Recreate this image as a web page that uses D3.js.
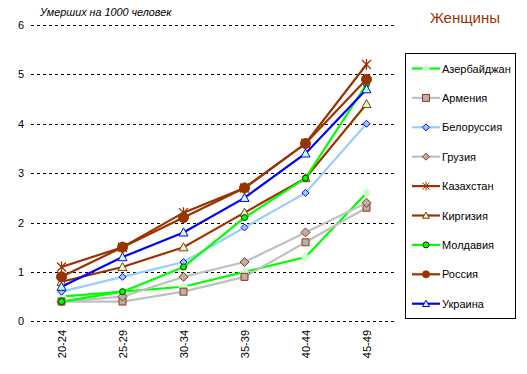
<!DOCTYPE html>
<html>
<head>
<meta charset="utf-8">
<style>
body { margin: 0; background: #fff; }
text { font-family: "Liberation Sans", Arial, sans-serif; }
</style>
</head>
<body>
<script src="https://d3js.org/d3.v7.min.js"></script>
<script>
// age groups along the x axis
var ageGroups = ["20-24", "25-29", "30-34", "35-39", "40-44", "45-49"];
var yTicks = [0, 1, 2, 3, 4, 5, 6];

// deaths per 1000 women, one array per republic
var azerbaijan = [0.5, 0.6, 0.7, 1.0, 1.3, 2.6];
var armenia    = [0.4, 0.4, 0.6, 0.9, 1.6, 2.3];
var belarus    = [0.6, 0.9, 1.2, 1.9, 2.6, 4.0];
var georgia    = [0.4, 0.5, 0.9, 1.2, 1.8, 2.4];
var kazakhstan = [1.1, 1.5, 2.2, 2.7, 3.6, 5.2];
var kirgizia   = [0.8, 1.1, 1.5, 2.2, 2.9, 4.4];
var moldova    = [0.4, 0.6, 1.1, 2.1, 2.9, 4.8];
var russia     = [0.9, 1.5, 2.1, 2.7, 3.6, 4.9];
var ukraine    = [0.7, 1.3, 1.8, 2.5, 3.4, 4.7];

var seriesNames = ["Азербайджан", "Армения", "Белоруссия", "Грузия", "Казахстан",
                   "Киргизия", "Молдавия", "Россия", "Украина"];

// how each series looks (line colour, marker shape/size, marker fill and stroke)
var styles = [
  { line: "#00ff00", shape: "diamond",  r: 4.5, fill: "#ccffcc", stroke: "#ccffcc" },
  { line: "#c0c0c0", shape: "square",   r: 3.5, fill: "#b2b2b2", stroke: "#993300" },
  { line: "#99ccff", shape: "diamond",  r: 3.5, fill: "#99ccff", stroke: "#0000ff" },
  { line: "#c0c0c0", shape: "diamond",  r: 4.5, fill: "#b2b2b2", stroke: "#993300" },
  { line: "#993300", shape: "star",     r: 4.5, fill: "none",    stroke: "#993300" },
  { line: "#993300", shape: "triangle", r: 4.5, fill: "#ccffcc", stroke: "#993300" },
  { line: "#00ff00", shape: "circle",   r: 3,   fill: "#00ff00", stroke: "#003300" },
  { line: "#993300", shape: "circle",   r: 5,   fill: "#993300", stroke: "#993300" },
  { line: "#0000ff", shape: "triangle", r: 4.5, fill: "#ccffcc", stroke: "#0000ff" }
];

var values = [azerbaijan, armenia, belarus, georgia, kazakhstan, kirgizia, moldova, russia, ukraine];

var series = seriesNames.map(function (name, i) {
  return { name: name, values: values[i], style: styles[i] };
});

function markerPath(shape, r) {
  if (shape == "diamond") return "M0," + (-r) + "L" + r + ",0L0," + r + "L" + (-r) + ",0Z";
  if (shape == "square") return "M" + (-r) + "," + (-r) + "H" + r + "V" + r + "H" + (-r) + "Z";
  if (shape == "triangle") return "M0," + (-r) + "L" + r + "," + (r * 0.8) + "L" + (-r) + "," + (r * 0.8) + "Z";
  if (shape == "circle") return "M" + r + ",0A" + r + "," + r + " 0 1,1 " + (-r) + ",0A" + r + "," + r + " 0 1,1 " + r + ",0Z";
  // star: asterisk with a vertical bar
  return "M" + (-r) + "," + (-r) + "L" + r + "," + r + "M" + (-r) + "," + r + "L" + r + "," + (-r) +
         "M0," + (-r - 1) + "L0," + (r + 1);
}

var width = 527, height = 374;
var svg = d3.select("body").append("svg")
  .attr("width", width)
  .attr("height", height);

var x = d3.scaleBand().domain(ageGroups).range([31, 397]);
var y = d3.scaleLinear().domain([0, 6]).range([321.3, 25]);
var cx = function (d) { return x(d) + x.bandwidth() / 2; };

// dashed gridlines
svg.selectAll("line.grid")
  .data(yTicks)
  .enter().append("line")
  .attr("class", "grid")
  .attr("x1", 31).attr("x2", 396)
  .attr("y1", function (d) { return Math.round(y(d)) + 0.5; })
  .attr("y2", function (d) { return Math.round(y(d)) + 0.5; })
  .attr("stroke", "#000")
  .attr("stroke-width", 1)
  .attr("stroke-dasharray", "3,3");

// y tick labels
svg.selectAll("text.ytick")
  .data(yTicks)
  .enter().append("text")
  .attr("class", "ytick")
  .attr("x", 24)
  .attr("y", function (d) { return y(d) + 4; })
  .attr("text-anchor", "end")
  .attr("font-size", 11)
  .text(function (d) { return d; });

// x tick labels (rotated)
svg.selectAll("text.xtick")
  .data(ageGroups)
  .enter().append("text")
  .attr("class", "xtick")
  .attr("transform", function (d) { return "translate(" + (cx(d) + 4) + ",330) rotate(-90)"; })
  .attr("text-anchor", "end")
  .attr("font-size", 11)
  .text(function (d) { return d; });

// axis title and chart title
svg.append("text")
  .attr("x", 40).attr("y", 16)
  .attr("font-size", 10.8)
  .attr("font-style", "italic")
  .text("Умерших на 1000 человек");

svg.append("text")
  .attr("x", 465).attr("y", 23)
  .attr("text-anchor", "middle")
  .attr("font-size", 15)
  .attr("fill", "#993300")
  .text("Женщины");

var line = d3.line()
  .x(function (d, i) { return cx(ageGroups[i]); })
  .y(function (d) { return y(d); });

var groups = svg.selectAll("g.series")
  .data(series)
  .enter().append("g")
  .attr("class", "series");

groups.append("path")
  .attr("d", function (d) { return line(d.values); })
  .attr("fill", "none")
  .attr("stroke", function (d) { return d.style.line; })
  .attr("stroke-width", 2.2);

groups.each(function (s) {
  d3.select(this).selectAll("path.marker")
    .data(s.values)
    .enter().append("path")
    .attr("class", "marker")
    .attr("transform", function (d, i) { return "translate(" + cx(ageGroups[i]) + "," + y(d) + ")"; })
    .attr("d", markerPath(s.style.shape, s.style.r))
    .attr("fill", s.style.fill)
    .attr("stroke", s.style.stroke)
    .attr("stroke-width", s.style.shape == "star" ? 1.3 : 1);
});

// legend
var legend = svg.append("g");
legend.append("rect")
  .attr("x", 405.5).attr("y", 53.5)
  .attr("width", 110).attr("height", 265)
  .attr("fill", "#fff")
  .attr("stroke", "#000");

var items = legend.selectAll("g.item")
  .data(series)
  .enter().append("g")
  .attr("class", "item")
  .attr("transform", function (d, i) { return "translate(0," + (68.5 + i * 29.4) + ")"; });

items.append("line")
  .attr("x1", 412).attr("x2", 440)
  .attr("y1", 0).attr("y2", 0)
  .attr("stroke", function (d) { return d.style.line; })
  .attr("stroke-width", 2.2);

items.append("path")
  .attr("transform", "translate(426,0)")
  .attr("d", function (d) { return markerPath(d.style.shape, Math.min(d.style.r, 3.5)); })
  .attr("fill", function (d) { return d.style.fill; })
  .attr("stroke", function (d) { return d.style.stroke; })
  .attr("stroke-width", 1);

items.append("text")
  .attr("x", 442).attr("y", 4)
  .attr("font-size", 11)
  .text(function (d) { return d.name; });
</script>
</body>
</html>
